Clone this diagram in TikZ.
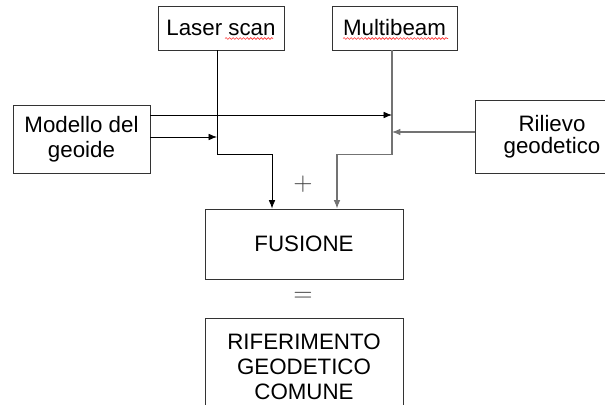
\documentclass[tikz,border=0pt]{standalone}
\usepackage{fontspec}
\setmainfont{Liberation Sans}
\usetikzlibrary{calc,arrows.meta,decorations.pathmorphing}
\newcommand{\pxu}{0.02cm}

\begin{document}
\begin{tikzpicture}[x=\pxu, y=-\pxu,
  box/.style={draw=black!80, line width=0.55pt, align=center, inner sep=2pt,
              font=\fontsize{12.7}{14.2}\selectfont},
  link/.style={line width=0.45pt, black},
  greylink/.style={line width=0.6pt, black!55},
  arr/.style={-{Latex[length=4.8pt,width=3.8pt]}},
  squiggle/.style={red!80, line width=0.35pt,
              decorate, decoration={snake, amplitude=0.5pt, segment length=2pt}},
  sign/.style={font=\fontsize{15}{16}\selectfont, text=black!75},
]

% Frame of the page; the two boxes at the border are cut off.
\useasboundingbox (0,0) rectangle (605,405);
\clip (0,0) rectangle (605,405);

% Sources along the top and the sides.
\node[box, minimum width=126*\pxu, minimum height=44*\pxu] (laser) at (221,28) {Laser scan};
\node[box, minimum width=125*\pxu, minimum height=44*\pxu] (multi) at (394.5,28) {Multibeam};
\node[box, minimum width=137*\pxu, minimum height=68*\pxu] (mod) at (81.5,139)
  {Modello del\\ geoide};
\node[box, minimum width=154*\pxu, minimum height=73*\pxu] (ril) at (552,136.5)
  {Rilievo\\[-1.5pt] geodetico};

% Result of the fusion.
\node[box, minimum width=198*\pxu, minimum height=70*\pxu] (fus) at (304,244) {FUSIONE};
\node[box, minimum width=198*\pxu, minimum height=97*\pxu] (rif) at (304,366.5)
  {RIFERIMENTO\\ GEODETICO\\ COMUNE};

\node[sign] (plus) at (303,184) {$+$};
\node[sign] (eq) at (303,297) {$=$};

% Spell-check marks under the two labels.
\draw[squiggle] (225,38.5) -- (273,38.5);
\draw[squiggle] (343,38.5) -- (448,38.5);

% Drop lines into the fusion box.
\coordinate (lsdrop) at ($(laser.south)+(-4,0)$);
\coordinate (mbdrop) at ($(multi.south)+(-2.5,0)$);
\draw[link, arr] (lsdrop) -- ++(0,104) -| ($(fus.north)+(-32,0)$);
\draw[greylink, arr] (mbdrop) -- ++(0,104) -| ($(fus.north)+(33,0)$);

% Side inputs.
\coordinate (mdup) at ($(mod.east)+(0,-24)$);
\coordinate (mdlo) at ($(mod.east)+(0,-2)$);
\coordinate (rlin) at ($(ril.west)+(0,-4.5)$);
\draw[link, arr] (mdup) -- (mdup -| mbdrop);
\draw[link, arr] (mdlo) -- (mdlo -| lsdrop);
\draw[greylink, arr] (rlin) -- (rlin -| mbdrop);

\end{tikzpicture}
\end{document}
